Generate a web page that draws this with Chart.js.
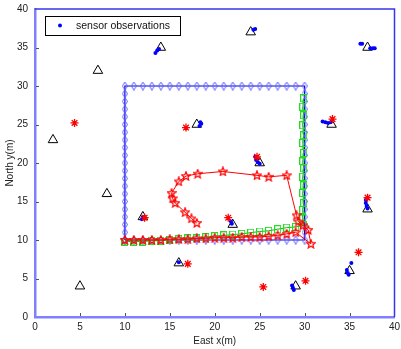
<!DOCTYPE html>
<html>
<head>
<meta charset="utf-8">
<script src="https://cdn.jsdelivr.net/npm/chart.js@4.4.1/dist/chart.umd.min.js"></script>
<style>
  html, body { margin: 0; padding: 0; background: #fff; }
  #chart { display: block; }
</style>
</head>
<body>
<canvas id="chart" width="401" height="349"></canvas>
<script>
// anchor (sensor) positions
const anchorX = [14, 7, 24, 37, 2, 8, 12, 5, 16, 33, 25, 22, 37, 29, 35, 18];
const anchorY = [35, 32, 37, 35, 23, 16, 13, 4, 7, 25, 20, 12, 14, 4, 6, 25];

// sensor observations
const obsX = [13.4, 13.6, 13.8, 24.3, 24.5, 36.2, 36.4, 37.3, 37.6, 37.8, 32.0, 32.3, 32.6, 32.9,
  24.5, 24.6, 24.8, 25.0, 18.4, 18.5, 18.3, 11.9, 12.0, 21.8, 21.9, 36.8, 36.8, 36.9, 37.0,
  16.0, 28.6, 28.7, 28.8, 34.7, 34.8, 34.9, 35.2];
const obsY = [34.3, 34.6, 34.8, 37.3, 37.4, 35.5, 35.5, 34.9, 34.9, 34.9, 25.4, 25.3, 25.2, 25.3,
  20.8, 20.4, 20.1, 19.9, 25.3, 25.1, 24.8, 12.7, 13.0, 12.4, 12.1, 15.2, 14.8, 14.4, 14.1,
  7.1, 4.1, 3.8, 3.5, 6.1, 5.7, 5.5, 7.0];

// estimated sensor positions
const estX = [4.4, 16.8, 33.1, 24.7, 12.2, 21.5, 37.0, 17.0, 25.4, 30.1, 36.0];
const estY = [25.2, 24.6, 25.7, 20.8, 12.9, 12.9, 15.5, 6.9, 3.9, 4.7, 8.4];

// true target track
const trackX = [10, 10, 10, 10, 10, 10, 10, 10, 10, 10, 10, 10, 10, 10, 10, 10, 10, 10, 10, 10, 10,
  11, 12, 13, 14, 15, 16, 17, 18, 19, 20, 21, 22, 23, 24, 25, 26, 27, 28, 29, 30,
  30, 30, 30, 30, 30, 30, 30, 30, 30, 30, 30, 30, 30, 30, 30, 30, 30, 30, 30, 30,
  29, 28, 27, 26, 25, 24, 23, 22, 21, 20, 19, 18, 17, 16, 15, 14, 13, 12, 11, 10];
const trackY = [10, 11, 12, 13, 14, 15, 16, 17, 18, 19, 20, 21, 22, 23, 24, 25, 26, 27, 28, 29, 30,
  30, 30, 30, 30, 30, 30, 30, 30, 30, 30, 30, 30, 30, 30, 30, 30, 30, 30, 30, 30,
  29, 28, 27, 26, 25, 24, 23, 22, 21, 20, 19, 18, 17, 16, 15, 14, 13, 12, 11, 10,
  10, 10, 10, 10, 10, 10, 10, 10, 10, 10, 10, 10, 10, 10, 10, 10, 10, 10, 10, 10];

// track estimate (squares)
const sqX = [10, 11, 12, 13, 14, 15, 16, 17, 18, 19, 20, 21, 22, 23, 24, 25, 26, 27, 28, 29,
  29.9, 29.8, 29.8, 29.9, 29.8, 29.9, 29.8, 29.9, 29.8, 29.9, 29.8, 29.9, 29.8, 29.9, 29.8, 29.9];
const sqY = [9.8, 9.8, 9.8, 9.9, 9.9, 10.0, 10.1, 10.2, 10.2, 10.35, 10.5, 10.6, 10.7, 10.8, 10.95, 11.1, 11.2, 11.4, 11.6, 11.7,
  11.9, 12.8, 13.9, 14.8, 16.1, 17.1, 18.2, 19.3, 20.2, 21.3, 22.6, 23.6, 24.9, 26.2, 27.3, 28.4];

// track estimate (stars)
const pentX = [10, 11, 12, 13, 14, 15, 16, 17, 18, 19, 20, 21, 22, 23, 24, 25, 26, 27, 28, 29,
  30.7, 30.4, 29.8, 29.3, 29.1, 28.0, 26.0, 24.7, 20.9, 18.1, 16.8, 16.0, 15.2, 15.3, 15.6, 16.7, 17.4, 18.0];
const pentY = [10.0, 10.0, 10.0, 10.0, 10.0, 10.1, 10.1, 10.1, 10.2, 10.2, 10.3, 10.3, 10.3, 10.4, 10.4, 10.4, 10.5, 10.6, 10.8, 11.0,
  9.5, 11.3, 11.9, 12.4, 13.2, 18.4, 18.2, 18.4, 18.9, 18.6, 18.3, 17.6, 16.1, 15.4, 14.8, 13.6, 12.8, 12.2];

const xTicks = [0, 5, 10, 15, 20, 25, 30, 35, 40];
const yTicks = [0, 5, 10, 15, 20, 25, 30, 35, 40];

const fontFamily = "'Liberation Sans', Arial, Helvetica, sans-serif";

function toPoints(xs, ys) {
  return xs.map((x, i) => ({ x: x, y: ys[i] }));
}

// small marker images for the shapes Chart.js does not have
function diamondMarker(w, h, color) {
  const c = document.createElement('canvas');
  c.width = w; c.height = h;
  const g = c.getContext('2d');
  g.strokeStyle = color;
  g.lineWidth = 1;
  g.beginPath();
  g.moveTo(w / 2, 0.5);
  g.lineTo(w - 0.5, h / 2);
  g.lineTo(w / 2, h - 0.5);
  g.lineTo(0.5, h / 2);
  g.closePath();
  g.stroke();
  return c;
}

function squareMarker(w, h, color) {
  const c = document.createElement('canvas');
  c.width = w; c.height = h;
  const g = c.getContext('2d');
  g.strokeStyle = color;
  g.lineWidth = 1;
  g.strokeRect(0.5, 0.5, w - 1, h - 1);
  return c;
}

function pentagramMarker(size, color) {
  const c = document.createElement('canvas');
  c.width = size; c.height = size;
  const g = c.getContext('2d');
  const cx = size / 2, cy = size / 2 + 0.3, R = size / 2 - 0.5, r = R * 0.45;
  g.beginPath();
  for (let i = 0; i < 10; i++) {
    const a = -Math.PI / 2 + i * Math.PI / 5;
    const rr = i % 2 ? r : R;
    g.lineTo(cx + rr * Math.cos(a), cy + rr * Math.sin(a));
  }
  g.closePath();
  g.strokeStyle = color;
  g.lineWidth = 1.2;
  g.stroke();
  return c;
}

// top/right frame, inward tick marks and the legend box
const frameBox = {
  id: 'frameBox',
  afterDraw(chart) {
    const { ctx, chartArea: a, scales } = chart;
    ctx.save();
    ctx.strokeStyle = '#3535ee';
    ctx.lineWidth = 1.5;
    ctx.beginPath();
    ctx.moveTo(a.left, a.top);
    ctx.lineTo(a.right, a.top);
    ctx.lineTo(a.right, a.bottom);
    ctx.stroke();

    ctx.strokeStyle = '#555';
    ctx.lineWidth = 1;
    ctx.beginPath();
    xTicks.slice(1, -1).forEach(v => {
      const px = Math.round(scales.x.getPixelForValue(v)) + 0.5;
      ctx.moveTo(px, a.bottom - 1);
      ctx.lineTo(px, a.bottom - 4);
    });
    yTicks.slice(1, -1).forEach(v => {
      const py = Math.round(scales.y.getPixelForValue(v)) + 0.5;
      ctx.moveTo(a.left + 1, py);
      ctx.lineTo(a.left + 4, py);
    });
    ctx.stroke();

    // legend
    ctx.fillStyle = '#fff';
    ctx.fillRect(45, 16, 135, 19);
    ctx.strokeStyle = '#000';
    ctx.lineWidth = 1;
    ctx.strokeRect(45.5, 16.5, 135, 19);
    ctx.fillStyle = '#0000ff';
    ctx.beginPath();
    ctx.arc(60, 25.5, 2, 0, Math.PI * 2);
    ctx.fill();
    ctx.fillStyle = '#111';
    ctx.font = '10.5px ' + fontFamily;
    ctx.textBaseline = 'middle';
    ctx.fillText('sensor observations', 76, 26);
    ctx.restore();
  }
};

const chartEl = document.getElementById('chart');
const chart = new Chart(chartEl, {
  type: 'scatter',
  data: {
    datasets: [
      {
        label: 'estimated sensors',
        data: toPoints(estX, estY),
        pointStyle: 'star',
        pointRadius: 4,
        borderColor: '#ff0000',
        pointBorderWidth: 1.3,
        order: 1
      },
      {
        label: 'sensor observations',
        data: toPoints(obsX, obsY),
        pointStyle: 'circle',
        pointRadius: 2,
        backgroundColor: '#0000ff',
        borderColor: '#0000ff',
        pointBorderWidth: 0,
        order: 2
      },
      {
        label: 'anchors',
        data: toPoints(anchorX, anchorY),
        pointStyle: 'triangle',
        pointRadius: 5.5,
        backgroundColor: 'rgba(0,0,0,0)',
        borderColor: '#000',
        pointBorderWidth: 1,
        order: 3
      },
      {
        label: 'estimate B',
        data: toPoints(pentX, pentY),
        showLine: true,
        borderColor: '#ff0000',
        borderWidth: 1,
        pointStyle: pentagramMarker(10, '#ff0000'),
        pointRadius: 4,
        order: 4
      },
      {
        label: 'estimate A',
        data: toPoints(sqX, sqY),
        showLine: true,
        borderColor: '#00c000',
        borderWidth: 1,
        pointStyle: squareMarker(7, 8, '#22dd22'),
        pointRadius: 4,
        order: 5
      },
      {
        label: 'true track',
        data: toPoints(trackX, trackY),
        showLine: true,
        borderColor: '#0000dd',
        borderWidth: 1.2,
        pointStyle: diamondMarker(6, 9, '#5a5aff'),
        pointRadius: 4,
        order: 6
      }
    ]
  },
  options: {
    responsive: false,
    animation: false,
    layout: { padding: { top: 9, right: 6, left: 0, bottom: 0 } },
    plugins: {
      legend: { display: false },
      tooltip: { enabled: false }
    },
    scales: {
      x: {
        type: 'linear',
        min: 0,
        max: 40,
        afterBuildTicks(scale) { scale.ticks = xTicks.map(v => ({ value: v })); },
        ticks: { font: { family: fontFamily, size: 10 }, color: '#222', padding: 4, maxRotation: 0 },
        grid: { drawOnChartArea: false, drawTicks: false },
        border: { color: '#8080ff', width: 2.5 },
        title: {
          display: true,
          text: 'East x(m)',
          color: '#222',
          font: { family: fontFamily, size: 10 },
          padding: { top: 0, bottom: 2 }
        },
        afterFit(scale) {
          scale.height = 32;
          scale.paddingLeft = 0;
          scale.paddingRight = 0;
        }
      },
      y: {
        type: 'linear',
        min: 0,
        max: 40,
        afterBuildTicks(scale) { scale.ticks = yTicks.map(v => ({ value: v })); },
        ticks: { font: { family: fontFamily, size: 10 }, color: '#222', padding: 7 },
        grid: { drawOnChartArea: false, drawTicks: false },
        border: { color: '#8080ff', width: 2.5 },
        title: {
          display: true,
          text: 'North y(m)',
          color: '#222',
          font: { family: fontFamily, size: 10 },
          padding: { top: 4, bottom: 0 }
        },
        afterFit(scale) {
          scale.width = 35;
          scale.paddingTop = 0;
          scale.paddingBottom = 0;
        }
      }
    }
  },
  plugins: [frameBox]
});
</script>
</body>
</html>
